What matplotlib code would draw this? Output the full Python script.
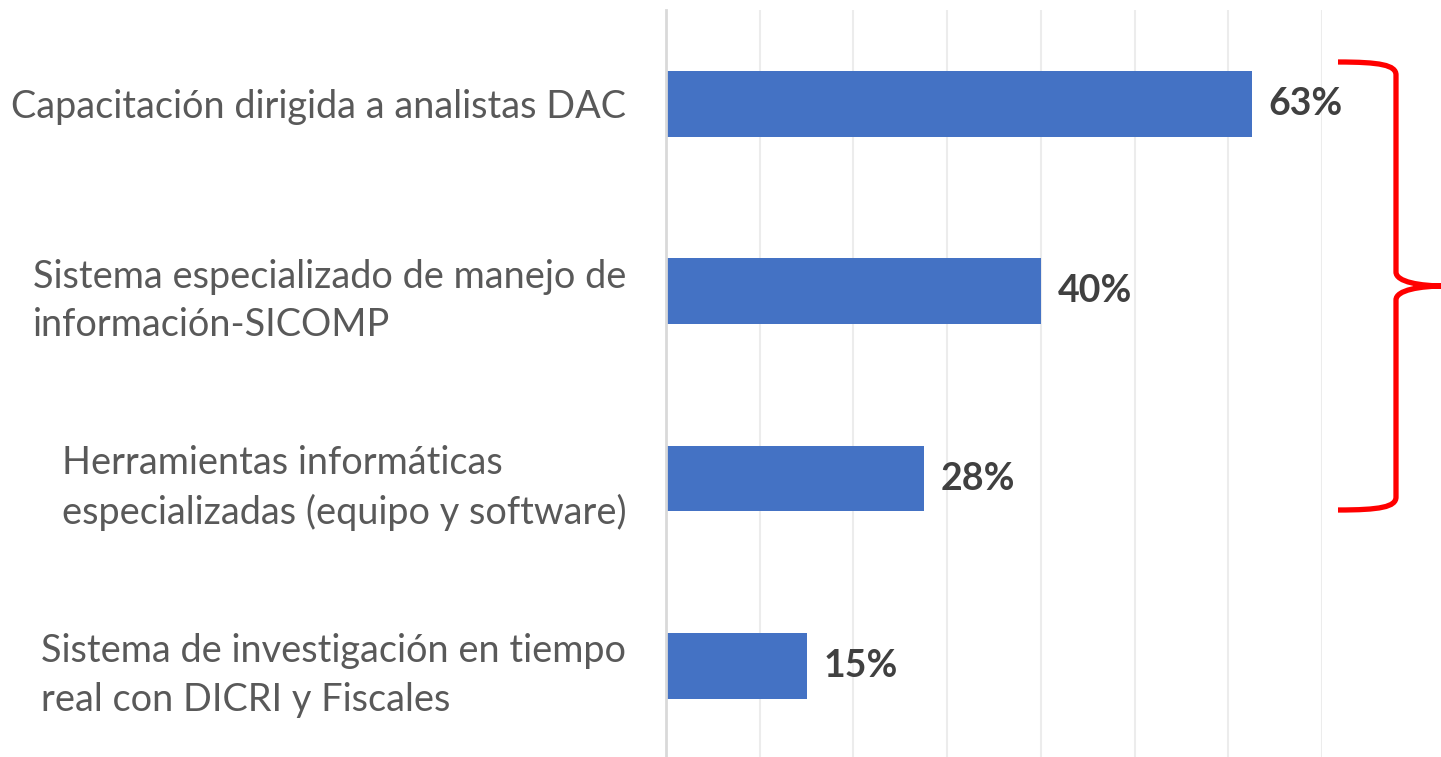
import matplotlib
matplotlib.use('Agg')
import matplotlib.pyplot as plt
from matplotlib.path import Path
from matplotlib.patches import PathPatch
from matplotlib.transforms import Affine2D

## Datos
categorias = ['Capacitación dirigida a analistas DAC',
              'Sistema especializado de manejo de\ninformación-SICOMP',
              'Herramientas informáticas\nespecializadas (equipo y software)',
              'Sistema de investigación en tiempo\nreal con DICRI y Fiscales']
valores = [62.5, 40, 27.5, 15]  ## porcentaje
etiquetas = ['63%', '40%', '28%', '15%']

W, H = 1441, 757
fig = plt.figure(figsize=(W / 100, H / 100), dpi=100)
ax = fig.add_axes([666 / W, (H - 759.6) / H, (1322 - 666) / W, 749.6 / H])

y = list(range(len(categorias)))
ax.barh(y, valores, height=0.352, color='#4472C4', zorder=3)
ax.set_ylim(3.5, -0.5)
ax.set_xlim(0, 70)

## Etiquetas de valor
for yi, v, t in zip(y, valores, etiquetas):
    ax.text(v + 1.8, yi, t, va='center', ha='left', fontsize=27, fontweight='bold',
            color='#404040', family='Lato')

## Rejilla
ax.set_xticks(range(0, 71, 10))
ax.xaxis.grid(True, color='#ececec', linewidth=1.5, zorder=0)
ax.tick_params(axis='x', bottom=False, labelbottom=False)
for s in ['top', 'right', 'bottom']:
    ax.spines[s].set_visible(False)
ax.spines['left'].set_color('#d9d9d9')
ax.spines['left'].set_linewidth(2)
ax.spines['left'].set_zorder(4)

ax.set_yticks(y)
ax.set_yticklabels(categorias, fontsize=27.3, color='#595959', family='Lato',
                   ha='right', multialignment='left', linespacing=1.42)
ax.tick_params(axis='y', left=False, pad=25)

## Llave roja
pts = [(1338, 62), (1380, 62), (1396, 65), (1396, 75),
       (1396, 272),
       (1396, 282), (1420, 286), (1445, 286),
       (1420, 286), (1396, 290), (1396, 300),
       (1396, 497),
       (1396, 507), (1380, 510), (1338, 510)]
codes = [Path.MOVETO, Path.CURVE4, Path.CURVE4, Path.CURVE4,
         Path.LINETO,
         Path.CURVE4, Path.CURVE4, Path.CURVE4,
         Path.CURVE4, Path.CURVE4, Path.CURVE4,
         Path.LINETO,
         Path.CURVE4, Path.CURVE4, Path.CURVE4]
tr = Affine2D().scale(1, -1).translate(0, H)
llave = PathPatch(Path(pts, codes), fill=False, edgecolor='red', linewidth=3.8,
                  transform=tr, clip_on=False)
fig.add_artist(llave)

fig.savefig('out.png', dpi=100)
